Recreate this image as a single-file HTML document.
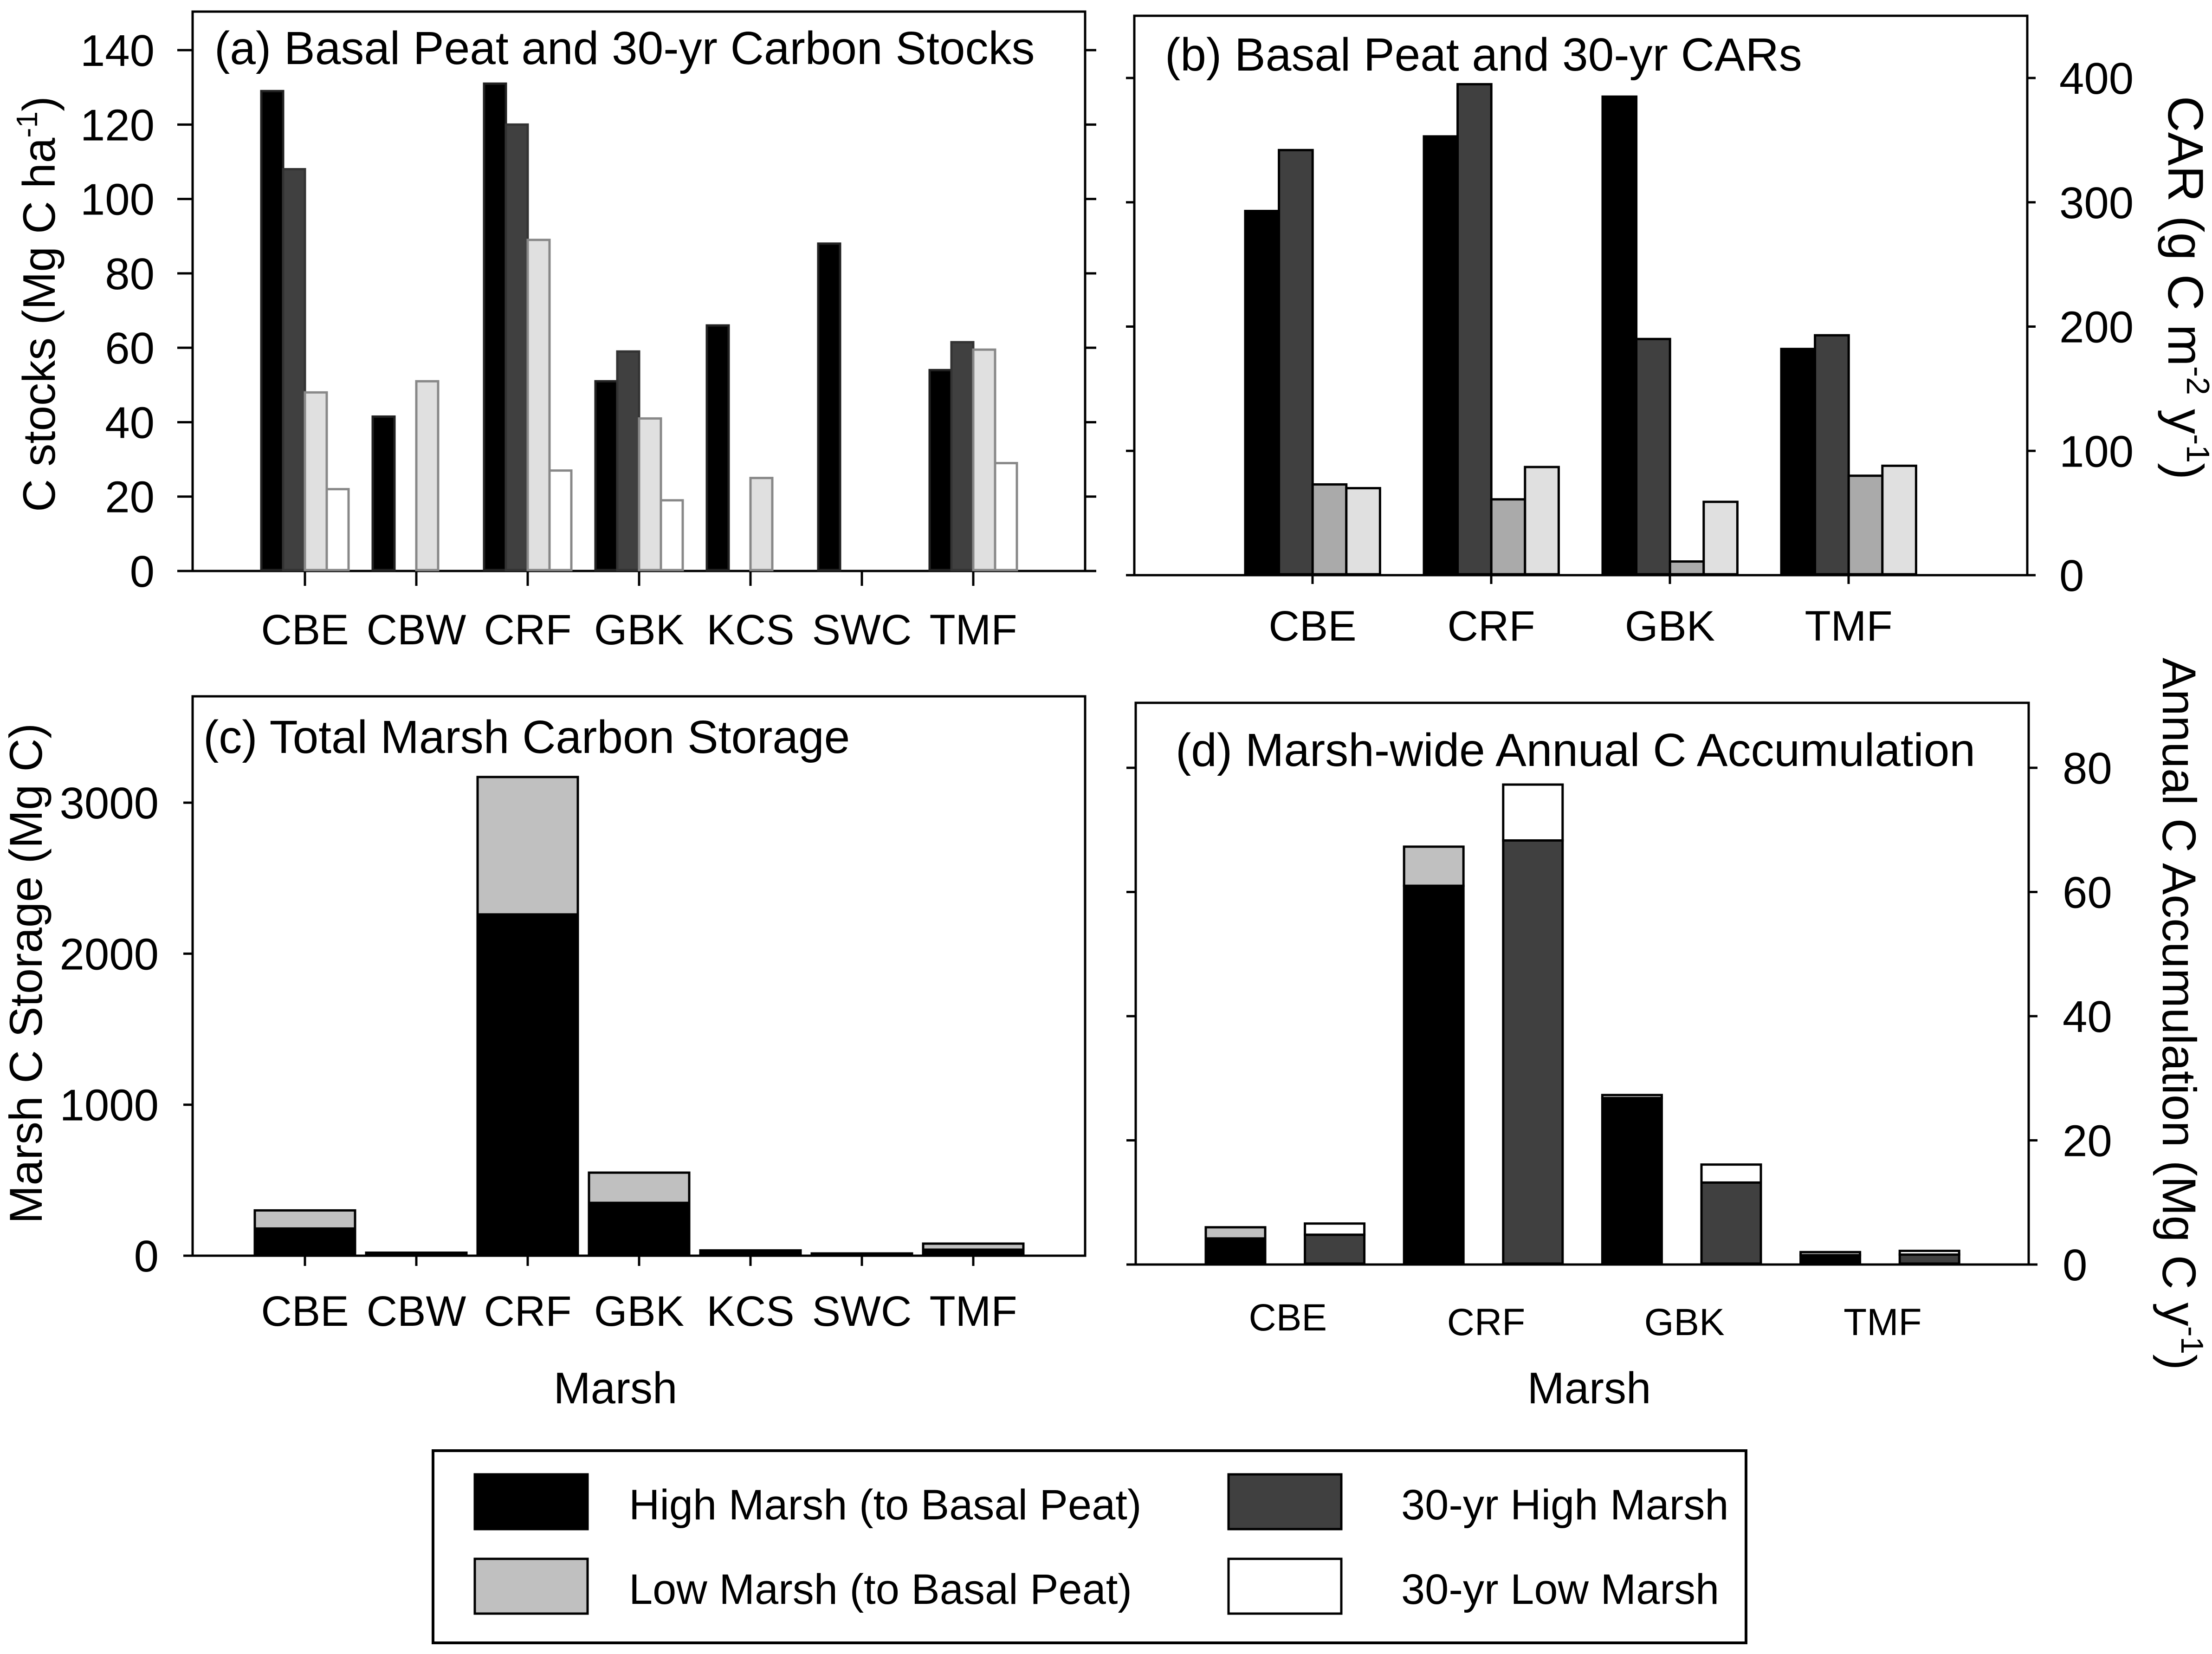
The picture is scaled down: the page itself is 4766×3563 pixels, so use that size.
<!DOCTYPE html>
<html><head><meta charset="utf-8">
<style>
html,body{margin:0;padding:0;background:#fff;}
svg{display:block;}
text{font-family:"Liberation Sans",Arial,sans-serif;fill:#000;}
</style></head>
<body>
<svg id="fig" xmlns="http://www.w3.org/2000/svg" width="4766" height="3563" viewBox="0 0 4766 3563"></svg>
<script>
// ---------- data ----------
const catsA = ['CBE','CBW','CRF','GBK','KCS','SWC','TMF'];
const aHigh   = [129, 41.5, 131, 51, 66, 88, 54];
const a30High = [108, null, 120, 59, null, null, 61.5];
const aLow    = [48, 51, 89, 41, 25, null, 59.5];
const a30Low  = [22, null, 27, 19, null, null, 29];
const ticksA  = [0,20,40,60,80,100,120,140];

const catsB = ['CBE','CRF','GBK','TMF'];
const bHigh   = [293, 353, 385, 182];
const b30High = [342, 395, 190, 193];
const bLow    = [73, 61, 11, 80];
const b30Low  = [70, 87, 59, 88];
const ticksB  = [0,100,200,300,400];

const catsC = ['CBE','CBW','CRF','GBK','KCS','SWC','TMF'];
const cHigh = [180, 20, 2260, 350, 35, 15, 40];
const cLow  = [120, 0, 910, 200, 0, 0, 40];
const ticksC = [0,1000,2000,3000];

const catsD = ['CBE','CRF','GBK','TMF'];
const dHigh   = [4.2, 61, 26.8, 1.5];
const dLow    = [1.8, 6.3, 0.5, 0.5];
const d30High = [4.8, 68.3, 13.2, 1.6];
const d30Low  = [1.8, 9, 2.9, 0.6];
const ticksD  = [0,20,40,60,80];

// ---------- helpers ----------
const svg = document.getElementById('fig');
const NS = 'http://www.w3.org/2000/svg';
function el(tag, attrs, name, parent) {
  const e = document.createElementNS(NS, tag);
  for (const k in attrs) e.setAttribute(k, attrs[k]);
  
  
  (parent || svg).appendChild(e);
  return e;
}
function txt(x, y, s, size, name, anchor, rot) {
  const t = el('text', {x: x, y: y, 'font-size': size, 'text-anchor': anchor || 'start'}, name);
  if (rot) t.setAttribute('transform', 'rotate(' + rot + ' ' + x + ' ' + y + ')');
  t.textContent = s;
  return t;
}
function line(x1, y1, x2, y2, name, w) {
  return el('line', {x1: x1, y1: y1, x2: x2, y2: y2, stroke: '#000', 'stroke-width': w || 5}, name);
}
function bar(x, w, yTop, yBot, fill, stroke, name) {
  if (yBot - yTop <= 0) return;
  return el('rect', {x: x, y: yTop, width: w, height: yBot - yTop, fill: fill, stroke: stroke, 'stroke-width': 5}, name);
}

// ---------- panel (a) ----------
const ya = v => 1230 - v * 8.014;
const xa = i => 657 + i * 240;
el('rect', {x: 415, y: 25, width: 1923, height: 1205, fill: 'none', stroke: '#000', 'stroke-width': 5}, 'panel-a-frame');
line(382, 1230, 2362, 1230, 'panel-a-x-axis');
ticksA.forEach(t => {
  line(382, ya(t), 415, ya(t), 'panel-a-y-tick');
  line(2338, ya(t), 2362, ya(t), 'panel-a-y-tick-right');
  txt(333, ya(t) + 34, String(t), 96, 'panel-a-y-tick-label', 'end');
});
catsA.forEach((c, i) => {
  line(xa(i), 1230, xa(i), 1262, 'panel-a-x-tick');
  txt(xa(i), 1388, c, 92, 'panel-a-x-label', 'middle');
});
const serA = [[aHigh,'#000','#222'],[a30High,'#404040','#333'],[aLow,'#e0e0e0','#888'],[a30Low,'#fff','#888']];
serA.forEach((s, k) => {
  s[0].forEach((v, i) => {
    if (v == null) return;
    bar(xa(i) - 94 + k * 47, 47, ya(v), 1228, s[1], s[2], 'panel-a-bar-' + catsA[i]);
  });
});
txt(462, 138, '(a) Basal Peat and 30-yr Carbon Stocks', 100, 'panel-a-title');
const ta = txt(118, 655, '', 98, 'panel-a-y-axis-title', 'middle', -90);
ta.innerHTML = 'C stocks (Mg C ha<tspan dy="-38" font-size="64">-1</tspan><tspan dy="38">)</tspan>';

// ---------- panel (b) ----------
const yb = v => 1239 - v * 2.6775;
const xb = i => 2828 + i * 385;
el('rect', {x: 2444, y: 34, width: 1924, height: 1205, fill: 'none', stroke: '#000', 'stroke-width': 5}, 'panel-b-frame');
line(2426, 1239, 4386, 1239, 'panel-b-x-axis');
ticksB.forEach(t => {
  line(2426, yb(t), 2444, yb(t), 'panel-b-y-tick-left');
  line(4368, yb(t), 4386, yb(t), 'panel-b-y-tick');
  txt(4437, yb(t) + 34, String(t), 96, 'panel-b-y-tick-label', 'start');
});
catsB.forEach((c, i) => {
  line(xb(i), 1239, xb(i), 1258, 'panel-b-x-tick');
  txt(xb(i), 1380, c, 92, 'panel-b-x-label', 'middle');
});
const serB = [[bHigh,'#000'],[b30High,'#404040'],[bLow,'#aaaaaa'],[b30Low,'#e0e0e0']];
serB.forEach((s, k) => {
  s[0].forEach((v, i) => {
    bar(xb(i) - 145 + k * 72.6, 72.6, yb(v), 1237, s[1], '#000', 'panel-b-bar-' + catsB[i]);
  });
});
txt(2510, 152, '(b) Basal Peat and 30-yr CARs', 100, 'panel-b-title');
const tb = txt(4672, 620, '', 108, 'panel-b-y-axis-title', 'middle', 90);
tb.innerHTML = 'CAR (g C m<tspan dy="-40" font-size="70">-2</tspan><tspan dy="40"> y</tspan><tspan dy="-40" font-size="70">-1</tspan><tspan dy="40">)</tspan>';

// ---------- panel (c) ----------
const yc = v => 2705 - v * 0.3253;
el('rect', {x: 415, y: 1500, width: 1923, height: 1205, fill: 'none', stroke: '#000', 'stroke-width': 5}, 'panel-c-frame');
line(395, 2705, 2338, 2705, 'panel-c-x-axis');
ticksC.forEach(t => {
  line(395, yc(t), 415, yc(t), 'panel-c-y-tick');
  txt(342, yc(t) + 34, String(t), 96, 'panel-c-y-tick-label', 'end');
});
catsC.forEach((c, i) => {
  line(xa(i), 2705, xa(i), 2727, 'panel-c-x-tick');
  txt(xa(i), 2856, c, 92, 'panel-c-x-label', 'middle');
  bar(xa(i) - 108, 216, yc(cHigh[i]), 2703, '#000', '#000', 'panel-c-bar-high-' + c);
  if (cLow[i] > 0) bar(xa(i) - 108, 216, yc(cHigh[i] + cLow[i]), yc(cHigh[i]), '#c0c0c0', '#000', 'panel-c-bar-low-' + c);
});
txt(438, 1622, '(c) Total Marsh Carbon Storage', 100, 'panel-c-title');
txt(90, 2097, 'Marsh C Storage (Mg C)', 99, 'panel-c-y-axis-title', 'middle', -90);
txt(1326, 3023, 'Marsh', 96, 'panel-c-x-axis-title', 'middle');

// ---------- panel (d) ----------
const yd = v => 2724 - v * 13.375;
const xd = k => 2662 + k * 213.6;
el('rect', {x: 2447, y: 1514, width: 1924, height: 1210, fill: 'none', stroke: '#000', 'stroke-width': 5}, 'panel-d-frame');
line(2427, 2724, 4390, 2724, 'panel-d-x-axis');
ticksD.forEach(t => {
  line(2427, yd(t), 2447, yd(t), 'panel-d-y-tick-left');
  line(4371, yd(t), 4390, yd(t), 'panel-d-y-tick');
  txt(4444, yd(t) + 34, String(t), 96, 'panel-d-y-tick-label', 'start');
});
catsD.forEach((c, i) => {
  const x1 = xd(2 * i), x2 = xd(2 * i + 1);
  txt((x1 + x2) / 2 + 6, i === 0 ? 2866 : 2876, c, 82, 'panel-d-x-label', 'middle');
  bar(x1 - 64, 128, yd(dHigh[i]), 2722, '#000', '#000', 'panel-d-bar-high-' + c);
  bar(x1 - 64, 128, yd(dHigh[i] + dLow[i]), yd(dHigh[i]), '#c0c0c0', '#000', 'panel-d-bar-low-' + c);
  bar(x2 - 64, 128, yd(d30High[i]), 2722, '#404040', '#000', 'panel-d-bar-30yr-high-' + c);
  bar(x2 - 64, 128, yd(d30High[i] + d30Low[i]), yd(d30High[i]), '#fff', '#000', 'panel-d-bar-30yr-low-' + c);
});
txt(2533, 1650, '(d) Marsh-wide Annual C Accumulation', 100, 'panel-d-title');
const td = txt(4660, 2184, '', 102, 'panel-d-y-axis-title', 'middle', 90);
td.innerHTML = 'Annual C Accumulation (Mg C y<tspan dy="-40" font-size="68">-1</tspan><tspan dy="40">)</tspan>';
txt(3424, 3023, 'Marsh', 96, 'panel-d-x-axis-title', 'middle');

// ---------- legend ----------
el('rect', {x: 933, y: 3125, width: 2829, height: 414, fill: '#fff', stroke: '#000', 'stroke-width': 6}, 'legend-box');
const legNames = ['High Marsh (to Basal Peat)','30-yr High Marsh','Low Marsh (to Basal Peat)','30-yr Low Marsh'];
const legFills = ['#000','#404040','#c0c0c0','#fff'];
legNames.forEach((n, k) => {
  const col = k % 2, row = Math.floor(k / 2);
  const sx = col ? 2647 : 1023, tx = col ? 3019 : 1355;
  const sy = row ? 3358 : 3176;
  el('rect', {x: sx, y: sy, width: 243, height: 118, fill: legFills[k], stroke: '#000', 'stroke-width': 5}, 'legend-swatch');
  txt(tx, sy + 97, n, 92, 'legend-entry');
});
</script>
</body></html>
